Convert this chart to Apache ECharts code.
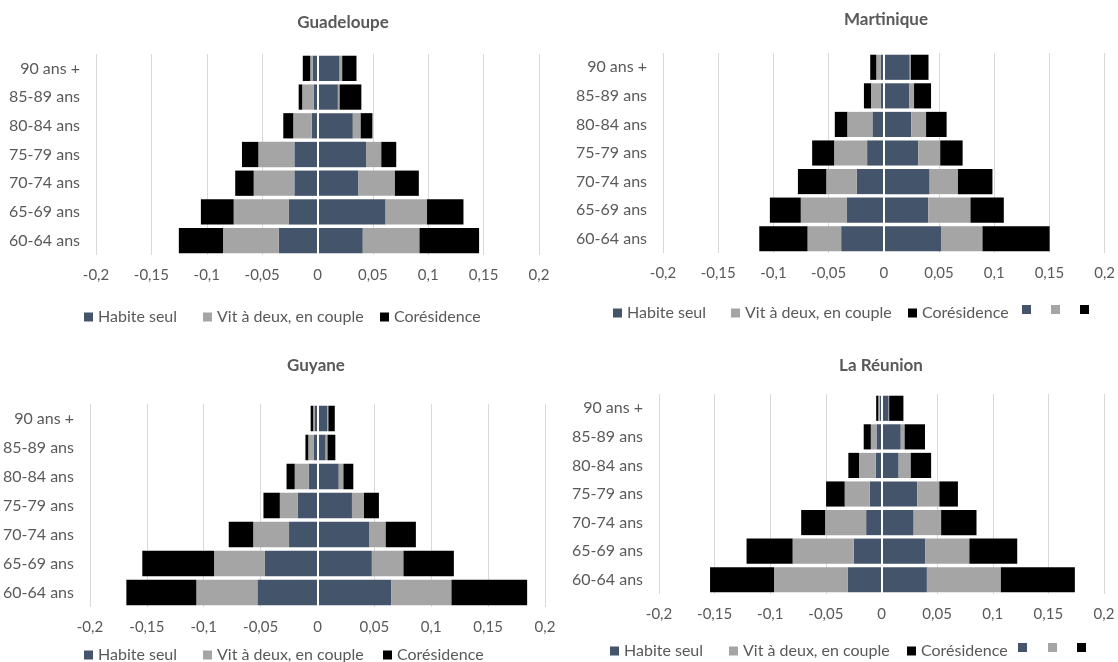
<!DOCTYPE html>
<html>
<head>
<meta charset="utf-8">
<script src="https://cdn.jsdelivr.net/npm/echarts@6/dist/echarts.min.js"></script>
<style>
  html, body { margin: 0; padding: 0; background: #ffffff; }
  #chart { width: 1118px; height: 662px; }
</style>
</head>
<body>
<div id="chart"></div>
<script>
// ---------- DATA ----------
const categories = ['60-64 ans', '65-69 ans', '70-74 ans', '75-79 ans', '80-84 ans', '85-89 ans', '90 ans +'];
const seriesNames = ['Habite seul', 'Vit à deux, en couple', 'Corésidence'];
const panelTitles = ['Guadeloupe', 'Martinique', 'Guyane', 'La Réunion'];
const xMin = -0.2, xMax = 0.2, xInterval = 0.05;

// Guadeloupe (left side negative, right side positive), bottom -> top
const guadeloupeLeftSeul   = [-0.0351, -0.0258, -0.0209, -0.0209, -0.0052, -0.0032, -0.0045];
const guadeloupeLeftDeux   = [-0.0502, -0.0499, -0.0367, -0.0325, -0.0167, -0.0106, -0.0020];
const guadeloupeLeftCores  = [-0.0399, -0.0296, -0.0167, -0.0148, -0.0090, -0.0032, -0.0068];
const guadeloupeRightSeul  = [0.0409, 0.0615, 0.0370, 0.0438, 0.0319, 0.0184, 0.0200];
const guadeloupeRightDeux  = [0.0512, 0.0374, 0.0329, 0.0138, 0.0071, 0.0016, 0.0023];
const guadeloupeRightCores = [0.0538, 0.0329, 0.0216, 0.0135, 0.0106, 0.0196, 0.0129];

// Martinique
const martiniqueLeftSeul   = [-0.0386, -0.0334, -0.0244, -0.0151, -0.0103, -0.0026, -0.0026];
const martiniqueLeftDeux   = [-0.0305, -0.0418, -0.0277, -0.0299, -0.0228, -0.0090, -0.0042];
const martiniqueLeftCores  = [-0.0437, -0.0280, -0.0257, -0.0199, -0.0113, -0.0064, -0.0055];
const martiniqueRightSeul  = [0.0518, 0.0402, 0.0415, 0.0312, 0.0248, 0.0232, 0.0235];
const martiniqueRightDeux  = [0.0376, 0.0383, 0.0257, 0.0199, 0.0135, 0.0042, 0.0010];
const martiniqueRightCores = [0.0608, 0.0302, 0.0312, 0.0203, 0.0186, 0.0154, 0.0160];

// Guyane
const guyaneLeftSeul   = [-0.0528, -0.0462, -0.0250, -0.0175, -0.0078, -0.0031, -0.0022];
const guyaneLeftDeux   = [-0.0537, -0.0447, -0.0315, -0.0156, -0.0122, -0.0050, -0.0016];
const guyaneLeftCores  = [-0.0615, -0.0631, -0.0215, -0.0144, -0.0072, -0.0025, -0.0022];
const guyaneRightSeul  = [0.0650, 0.0478, 0.0453, 0.0303, 0.0187, 0.0072, 0.0084];
const guyaneRightDeux  = [0.0528, 0.0278, 0.0147, 0.0106, 0.0041, 0.0016, 0.0012];
const guyaneRightCores = [0.0665, 0.0443, 0.0265, 0.0131, 0.0087, 0.0069, 0.0056];

// La Réunion
const reunionLeftSeul   = [-0.0305, -0.0250, -0.0138, -0.0106, -0.0051, -0.0045, -0.0016];
const reunionLeftDeux   = [-0.0661, -0.0549, -0.0369, -0.0225, -0.0151, -0.0051, -0.0013];
const reunionLeftCores  = [-0.0575, -0.0414, -0.0215, -0.0167, -0.0096, -0.0064, -0.0019];
const reunionRightSeul  = [0.0408, 0.0392, 0.0289, 0.0321, 0.0154, 0.0173, 0.0064];
const reunionRightDeux  = [0.0665, 0.0398, 0.0247, 0.0199, 0.0109, 0.0035, 0.0005];
const reunionRightCores = [0.0665, 0.0430, 0.0318, 0.0167, 0.0183, 0.0183, 0.0128];

// ---------- LAYOUT / STYLE ----------
const FONT = 'Lato, "Open Sans", sans-serif';
const TXT = '#595959';
const colors = ['#44546A', '#A5A5A5', '#000000'];

const panels = [
  { title: panelTitles[0], titleX: 343, titleY: 14, grid: { left: 96, top: 54, width: 443, height: 201 },
    data: [guadeloupeLeftSeul, guadeloupeLeftDeux, guadeloupeLeftCores, guadeloupeRightSeul, guadeloupeRightDeux, guadeloupeRightCores],
    legendX: [84, 203, 380], legendY: 309, extra: null },
  { title: panelTitles[1], titleX: 886, titleY: 11, grid: { left: 663, top: 53, width: 443, height: 200 },
    data: [martiniqueLeftSeul, martiniqueLeftDeux, martiniqueLeftCores, martiniqueRightSeul, martiniqueRightDeux, martiniqueRightCores],
    legendX: [613, 731, 908], legendY: 305, extra: [1022, 1051, 1080] },
  { title: panelTitles[2], titleX: 316, titleY: 357, grid: { left: 87, top: 404, width: 458, height: 203 },
    data: [guyaneLeftSeul, guyaneLeftDeux, guyaneLeftCores, guyaneRightSeul, guyaneRightDeux, guyaneRightCores],
    legendX: [84, 203, 383], legendY: 647, extra: null },
  { title: panelTitles[3], titleX: 881, titleY: 357, grid: { left: 659, top: 394, width: 445, height: 200 },
    data: [reunionLeftSeul, reunionLeftDeux, reunionLeftCores, reunionRightSeul, reunionRightDeux, reunionRightCores],
    legendX: [610, 729, 907], legendY: 643, extra: [1018, 1048, 1077] }
];

const titles = [], grids = [], xAxes = [], yAxes = [], series = [], legends = [];

const legendCommon = {
  orient: 'horizontal', padding: 0, icon: 'rect', itemWidth: 9, itemHeight: 9,
  itemGap: 0, itemTextGap: 4, selectedMode: false,
  textStyle: { color: TXT, fontSize: 16, fontFamily: FONT }
};

panels.forEach((p, i) => {
  titles.push({
    text: p.title, left: p.titleX, top: p.titleY, textAlign: 'center', padding: 0,
    textStyle: { color: TXT, fontSize: 17, fontWeight: 'bold', fontFamily: FONT }
  });
  grids.push(Object.assign({ containLabel: false }, p.grid));
  xAxes.push({
    type: 'value', gridIndex: i, min: xMin, max: xMax, interval: xInterval,
    axisLine: { show: false }, axisTick: { show: false },
    splitLine: { show: true, lineStyle: { color: '#D9D9D9', width: 1 } },
    axisLabel: {
      color: TXT, fontSize: 15, fontFamily: FONT, margin: 13,
      formatter: v => String(+v.toFixed(2)).replace('.', ',')
    }
  });
  yAxes.push({
    type: 'category', gridIndex: i, data: categories,
    axisLine: { show: false }, axisTick: { show: false }, splitLine: { show: false },
    axisLabel: { color: TXT, fontSize: 16, fontFamily: FONT, margin: 16 }
  });
  const rightSuffix = p.extra ? ' \u200b' : '';
  p.data.forEach((arr, k) => {
    const seg = k % 3;
    const isRight = k >= 3;
    const s = {
      type: 'bar', xAxisIndex: i, yAxisIndex: i, stack: 'pyr' + i,
      name: seriesNames[seg] + (isRight ? rightSuffix : ''),
      data: arr, barCategoryGap: '12%',
      itemStyle: { color: colors[seg] },
      silent: true, animation: false
    };
    if (k === 5) {
      s.markLine = {
        silent: true, symbol: 'none', animation: false,
        label: { show: false },
        lineStyle: { color: '#FFFFFF', width: 2, type: 'solid' },
        data: [{ xAxis: 0 }]
      };
    }
    series.push(s);
  });
  p.legendX.forEach((x, k) => {
    legends.push(Object.assign({}, legendCommon, {
      data: [seriesNames[k]], left: x, top: p.legendY
    }));
  });
  if (p.extra) {
    p.extra.forEach((x, k) => {
      legends.push(Object.assign({}, legendCommon, {
        data: [seriesNames[k] + rightSuffix], left: x, top: p.legendY,
        formatter: () => ''
      }));
    });
  }
});

const chart = echarts.init(document.getElementById('chart'), null, { renderer: 'canvas' });
chart.setOption({
  backgroundColor: '#FFFFFF',
  animation: false,
  title: titles,
  grid: grids,
  xAxis: xAxes,
  yAxis: yAxes,
  legend: legends,
  series: series
});
</script>
</body>
</html>
